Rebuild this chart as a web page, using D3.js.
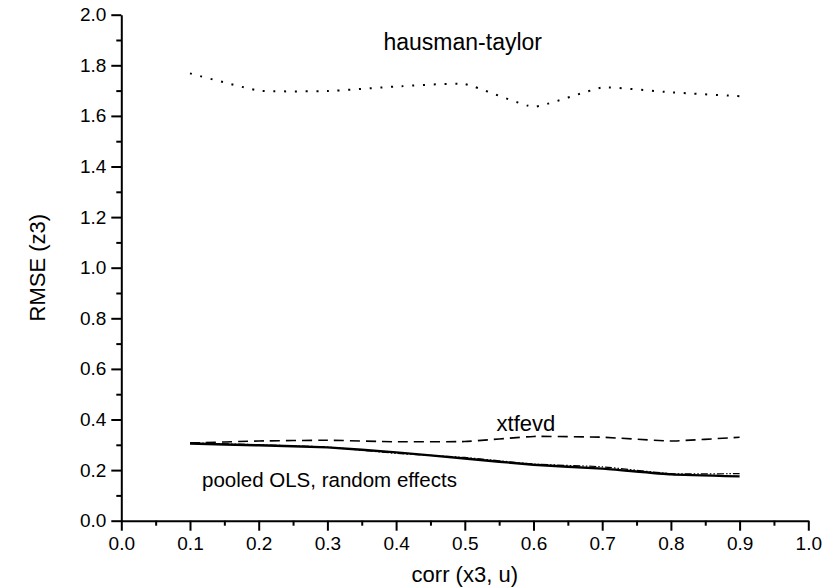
<!DOCTYPE html>
<html>
<head>
<meta charset="utf-8">
<script src="https://cdn.jsdelivr.net/npm/d3@7"></script>
<style>
  body { margin: 0; background: #fff; }
  svg text { font-family: "Liberation Sans", Arial, sans-serif; fill: #000; }
</style>
</head>
<body>
<svg id="chart" width="833" height="587"></svg>
<script>
// values
var corr = [0.1, 0.2, 0.3, 0.4, 0.5, 0.6, 0.7, 0.8, 0.9];
var hausmanTaylor = [1.768, 1.700, 1.698, 1.716, 1.726, 1.636, 1.712, 1.693, 1.678];
var xtfevd = [0.307, 0.315, 0.318, 0.312, 0.313, 0.333, 0.330, 0.315, 0.330];
var pooledOLS = [0.305, 0.298, 0.290, 0.270, 0.246, 0.221, 0.206, 0.183, 0.175];
var randomEffects = [0.308, 0.300, 0.291, 0.266, 0.250, 0.224, 0.213, 0.186, 0.186];

var xMajor = d3.range(0, 11).map(d => d / 10);
var xMinor = d3.range(0, 10).map(d => d / 10 + 0.05);
var yMajor = d3.range(0, 11).map(d => d / 5);
var yMinor = d3.range(0, 10).map(d => d / 5 + 0.1);

var svg = d3.select("#chart");

var x = d3.scaleLinear().domain([0, 1]).range([121.3, 808.3]);
var y = d3.scaleLinear().domain([0, 2]).range([520.7, 14.7]);

// minor ticks first, then the labelled axes on top
svg.append("g")
    .attr("transform", "translate(0," + y(0) + ")")
    .call(d3.axisBottom(x).tickValues(xMinor).tickSize(5).tickSizeOuter(0).tickFormat(""))
    .call(g => g.select(".domain").remove())
    .selectAll("line").attr("stroke-width", 2);

svg.append("g")
    .attr("transform", "translate(" + x(0) + ",0)")
    .call(d3.axisLeft(y).tickValues(yMinor).tickSize(5).tickSizeOuter(0).tickFormat(""))
    .call(g => g.select(".domain").remove())
    .selectAll("line").attr("stroke-width", 2);

var xAxis = svg.append("g")
    .attr("transform", "translate(0," + y(0) + ")")
    .call(d3.axisBottom(x).tickValues(xMajor).tickSize(10).tickSizeOuter(0).tickPadding(6).tickFormat(d3.format(".1f")));

var yAxis = svg.append("g")
    .attr("transform", "translate(" + x(0) + ",0)")
    .call(d3.axisLeft(y).tickValues(yMajor).tickSize(10).tickSizeOuter(0).tickPadding(5).tickFormat(d3.format(".1f")));

[xAxis, yAxis].forEach(function (g) {
    g.select(".domain").attr("stroke-width", 2);
    g.selectAll(".tick line").attr("stroke-width", 2);
    g.selectAll("text").attr("font-size", 19).attr("font-family", "Liberation Sans, Arial, sans-serif");
});

svg.append("text")
    .attr("x", (x(0) + x(1)) / 2)
    .attr("y", 582)
    .attr("text-anchor", "middle")
    .attr("font-size", 22)
    .text("corr (x3, u)");

svg.append("text")
    .attr("transform", "translate(45," + (y(1)) + ") rotate(-90)")
    .attr("text-anchor", "middle")
    .attr("font-size", 22)
    .text("RMSE (z3)");

var line = d3.line()
    .x((d, i) => x(corr[i]))
    .y(d => y(d))
    .curve(d3.curveCardinal.tension(0.6));

var series = [
    {values: hausmanTaylor, width: 2, dash: "2,8.7"},
    {values: xtfevd, width: 1.6, dash: "10,6"},
    {values: pooledOLS, width: 2.4, dash: null},
    {values: randomEffects, width: 1.2, dash: "7,2,1.5,2,1.5,2"}
];

series.forEach(function (s) {
    svg.append("path")
        .attr("fill", "none")
        .attr("stroke", "#000")
        .attr("stroke-width", s.width)
        .attr("stroke-dasharray", s.dash)
        .attr("d", line(s.values));
});

var notes = [
    {text: "hausman-taylor", cx: 0.497, v: 1.86, size: 23},
    {text: "xtfevd", cx: 0.589, v: 0.355, size: 22},
    {text: "pooled OLS, random effects", cx: 0.303, v: 0.133, size: 20.5}
];

svg.selectAll("text.note").data(notes).enter().append("text")
    .attr("class", "note")
    .attr("x", d => x(d.cx))
    .attr("y", d => y(d.v))
    .attr("text-anchor", "middle")
    .attr("font-size", d => d.size)
    .text(d => d.text);
</script>
</body>
</html>
